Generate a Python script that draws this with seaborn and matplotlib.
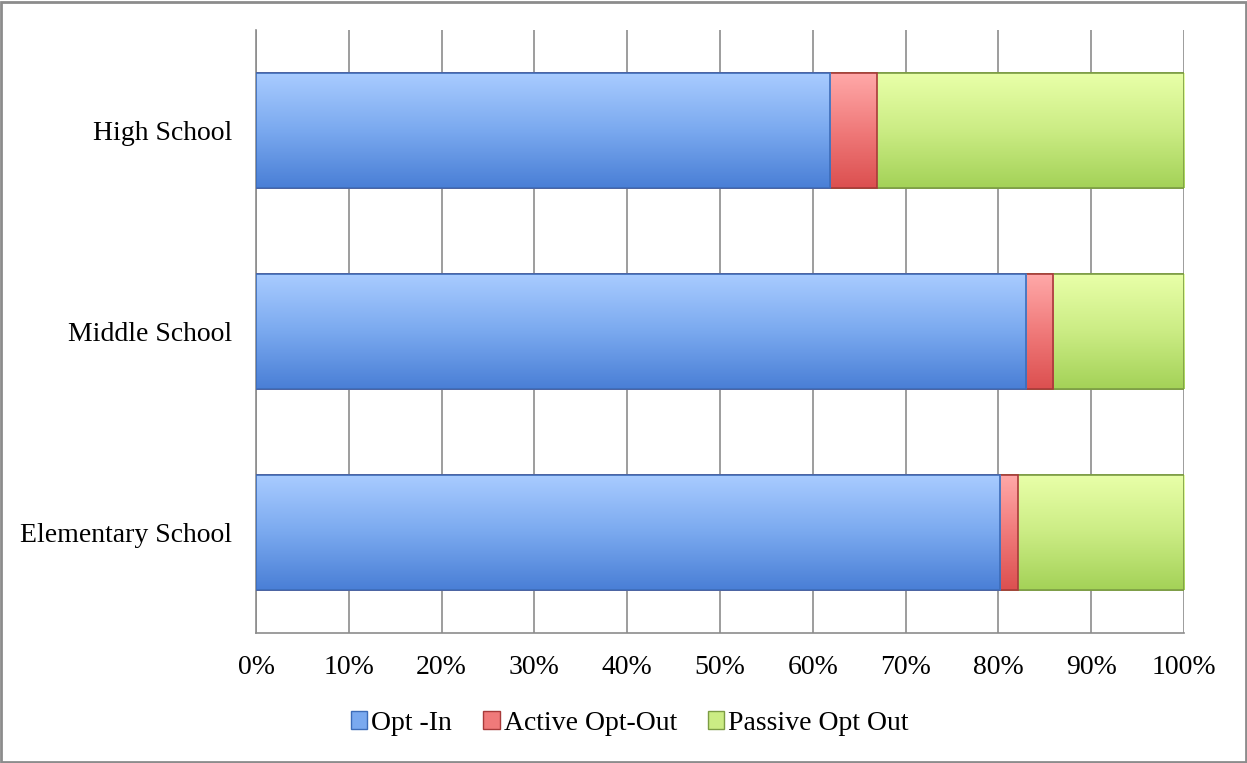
import matplotlib
matplotlib.use("Agg")
import matplotlib.pyplot as plt
import matplotlib.colors as mcolors
from matplotlib.patches import Patch, Rectangle
import numpy as np
import pandas as pd
import seaborn as sns

# data (percent of students)
schools = ['High School', 'Middle School', 'Elementary School']
opt_in = [61.9, 83.0, 80.2]
active_opt_out = [5.0, 2.9, 1.9]
passive_opt_out = [33.1, 14.1, 17.9]
series_names = ['Opt -In', 'Active Opt-Out', 'Passive Opt Out']

# (light top, middle, dark bottom, edge)
shades = [('#a8cbff', '#7aa9ef', '#4a7fd6', '#3d6cb8'),
          ('#ffa8a8', '#f07a7a', '#dc5050', '#a83a3a'),
          ('#e8ffa8', '#cbec84', '#a4d258', '#7c9c44')]

sns.set_style('white')
plt.rcParams['font.family'] = ['Liberation Serif', 'DejaVu Serif']

df = pd.DataFrame({'school': schools, 'a': opt_in, 'b': active_opt_out, 'c': passive_opt_out})
df['cum_a'] = df['a']
df['cum_b'] = df['a'] + df['b']
df['cum_c'] = df['cum_b'] + df['c']

fig = plt.figure(figsize=(12.47, 7.63), dpi=100)
ax = fig.add_axes([0.2053, 0.1704, 0.7442, 0.7903])

# draw back to front so each stack segment shows
layers = ['cum_c', 'cum_b', 'cum_a']
shade_order = [shades[2], shades[1], shades[0]]
for col, sh in zip(layers, shade_order):
    sns.barplot(data=df, x=col, y='school', orient='h', color=sh[2],
                edgecolor=sh[3], linewidth=1.2, width=0.57, ax=ax,
                saturation=1, zorder=3)

# vertical gradient on each bar, clipped to the bar patch
n = len(schools)
for i, sh in enumerate(shade_order):
    cmap = mcolors.LinearSegmentedColormap.from_list('g', [sh[0], sh[1], sh[2]])
    grad = np.linspace(0, 1, 64).reshape(-1, 1)
    for p in ax.patches[i * n:(i + 1) * n]:
        x0, y0 = p.get_x(), p.get_y()
        w, h = p.get_width(), p.get_height()
        im = ax.imshow(grad, cmap=cmap, aspect='auto', origin='upper',
                       extent=[x0, x0 + w, y0 + h, y0], zorder=3 + 0.1 * (i + 1),
                       interpolation='bicubic')
        im.set_clip_path(p)
        edge = Rectangle((x0, y0), w, h, fill=False, edgecolor=sh[3],
                         linewidth=1.2, zorder=3 + 0.1 * (i + 1) + 0.05)
        ax.add_patch(edge)

ax.set_xlim(0, 100)
ax.set_ylim(n - 0.5, -0.5)
ax.set_xticks(np.arange(0, 101, 10))
ax.set_xticklabels([f'{t}%' for t in range(0, 101, 10)])
ax.set_xlabel('')
ax.set_ylabel('')
ax.grid(axis='x', color='#8c8c8c', linewidth=1.2, zorder=0)
ax.grid(axis='y', visible=False)
ax.set_axisbelow(True)
for s in ['top', 'right']:
    ax.spines[s].set_visible(False)
for s in ['left', 'bottom']:
    ax.spines[s].set_color('#8c8c8c')
    ax.spines[s].set_linewidth(1.2)
ax.tick_params(axis='both', length=0, labelsize=20, colors='black')
ax.tick_params(axis='x', pad=16)
ax.tick_params(axis='y', pad=17)

handles = [Patch(facecolor=sh[1], edgecolor=sh[3]) for sh in shades]
leg = fig.legend(handles, series_names, loc='center', bbox_to_anchor=(0.505, 0.052),
                 ncol=3, frameon=False, fontsize=20, handlelength=0.6, handleheight=0.6,
                 handletextpad=0.15, columnspacing=1.1)
for t in leg.get_texts():
    t.set_color('black')

fig.patches.append(Rectangle((0.001, 0.001), 0.998, 0.997, transform=fig.transFigure,
                             fill=False, edgecolor='#8c8c8c', linewidth=2))

fig.savefig('out.png', dpi=100)
